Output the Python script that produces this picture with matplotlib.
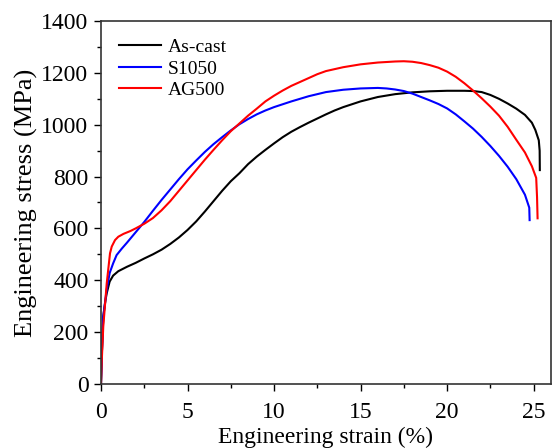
import matplotlib.pyplot as plt
from matplotlib.ticker import MultipleLocator

plt.rcParams["font.family"] = ["Liberation Serif", "DejaVu Serif"]

# strain (%) / stress (MPa)
ascast_strain = [0, 0.05, 0.13, 0.25, 0.33, 0.5, 0.7, 1.0, 1.5, 2.0, 2.5, 3.0, 3.5, 4.0,
                 4.5, 5.0, 5.5, 6.0, 6.5, 7.0, 7.5, 8.0, 8.5, 9.0, 9.5, 10.0, 10.5,
                 11.0, 11.5, 12.0, 12.5, 13.0, 13.5, 14.0, 15.0, 16.0, 17.0, 18.0,
                 19.0, 20.0, 21.0, 21.5, 22.0, 22.5, 23.0, 23.5, 24.0, 24.5, 24.9,
                 25.1, 25.3, 25.35, 25.36]
ascast_stress = [0, 120, 260, 320, 350, 395, 418, 435, 452, 467, 484, 500, 518, 540,
                 565, 594, 627, 665, 705, 745, 782, 813, 848, 877, 903, 928, 952,
                 973, 991, 1008, 1024, 1040, 1055, 1068, 1090, 1107, 1118, 1125,
                 1129, 1131, 1131, 1130, 1126, 1115, 1100, 1082, 1062, 1038, 1008,
                 980, 940, 900, 825]

s1050_strain = [0, 0.05, 0.13, 0.33, 0.5, 0.7, 0.9, 1.2, 1.5, 2.0, 2.5, 3.0, 3.5, 4.0,
                4.5, 5.0, 5.5, 6.0, 6.5, 7.0, 7.5, 8.0, 8.5, 9.0, 9.5, 10.0, 11.0,
                12.0, 13.0, 14.0, 15.0, 16.0, 16.5, 17.0, 17.5, 18.0, 18.5, 19.0,
                19.5, 20.0, 20.5, 21.0, 21.5, 22.0, 22.5, 23.0, 23.5, 24.0, 24.5,
                24.75, 24.77]
s1050_stress = [0, 120, 260, 365, 428, 465, 497, 522, 545, 585, 625, 668, 710, 750,
                790, 828, 862, 895, 925, 952, 978, 1002, 1022, 1040, 1055, 1068, 1090,
                1110, 1126, 1135, 1140, 1142, 1140, 1136, 1130, 1120, 1107, 1094,
                1080, 1063, 1040, 1013, 985, 953, 918, 880, 838, 790, 730,
                680, 632]

ag500_strain = [0, 0.05, 0.13, 0.33, 0.52, 0.62, 0.81, 1.0, 1.3, 1.7, 2.0, 2.5, 3.0,
                3.5, 4.0, 4.5, 5.0, 5.5, 6.0, 6.5, 7.0, 7.5, 8.0, 8.5, 9.0, 9.5,
                10.0, 10.5, 11.0, 11.5, 12.0, 12.5, 13.0, 14.0, 15.0, 16.0, 17.0,
                17.5, 18.0, 18.5, 19.0, 19.5, 20.0, 20.5, 21.0, 21.5, 22.0, 22.5,
                23.0, 23.5, 24.0, 24.5, 24.9, 25.15, 25.2, 25.23]
ag500_stress = [0, 100, 221, 388, 504, 530, 555, 568, 579, 590, 600, 618, 640,
                670, 705, 745, 785, 825, 865, 903, 940, 975, 1005, 1035, 1062, 1090,
                1112, 1132, 1150, 1165, 1180, 1195, 1207, 1222, 1233, 1240, 1244,
                1245, 1243, 1238, 1230, 1220, 1205, 1185, 1160, 1132, 1102, 1070,
                1035, 992, 942, 893, 840, 795, 720, 639]

fig = plt.figure(figsize=(5.52, 4.48), dpi=100)
ax = fig.add_axes([0.183, 0.143, 0.815, 0.810])

ax.plot(ascast_strain, ascast_stress, color="black", lw=1.5, label="As-cast")
ax.plot(s1050_strain, s1050_stress, color="#0000ff", lw=1.5, label="S1050")
ax.plot(ag500_strain, ag500_stress, color="#ff0000", lw=1.5, label="AG500")

ax.set_xlim(0, 26)
ax.set_ylim(0, 1400)
ax.xaxis.set_major_locator(MultipleLocator(5))
ax.xaxis.set_minor_locator(MultipleLocator(2.5))
ax.yaxis.set_major_locator(MultipleLocator(200))
ax.yaxis.set_minor_locator(MultipleLocator(100))
ax.tick_params(which="major", direction="out", length=5, width=1, labelsize=17)
ax.tick_params(axis="y", which="major", pad=4)
ax.tick_params(axis="x", which="major", pad=8)
ax.tick_params(which="minor", direction="out", length=3, width=1)
for sp in ax.spines.values():
    sp.set_linewidth(1.2)
    sp.set_color("#333333")

ax.set_xlabel("Engineering strain (%)", fontsize=17, labelpad=3)
ax.set_ylabel("Engineering stress (MPa)", fontsize=19, labelpad=2)

ax.legend(loc="upper left", frameon=False, fontsize=14, handlelength=2.2,
          handletextpad=0.35, labelspacing=0.2, borderaxespad=0.5)

fig.savefig("out.png", dpi=100)
